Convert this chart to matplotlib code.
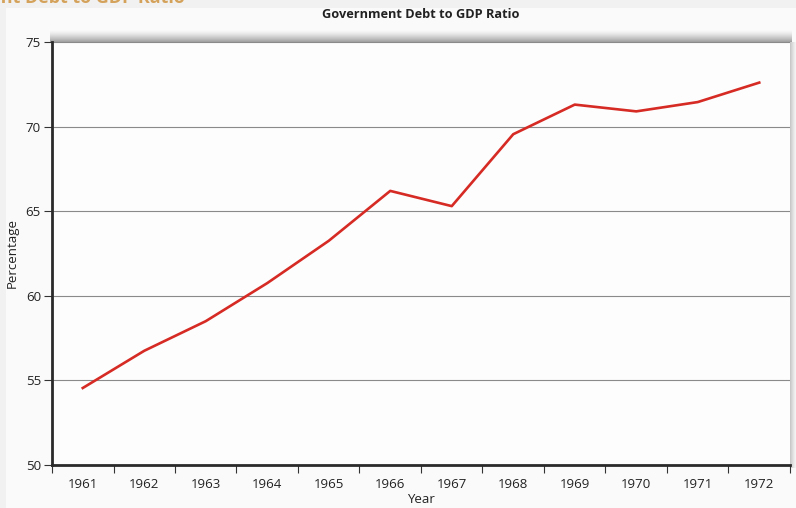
import matplotlib.pyplot as plt
from matplotlib.patches import Rectangle

plt.rcParams['font.family'] = ['Open Sans', 'DejaVu Sans']

years = ['1961', '1962', '1963', '1964', '1965', '1966',
         '1967', '1968', '1969', '1970', '1971', '1972']
debt_ratio = [54.55, 56.75, 58.5, 60.75, 63.25, 66.2,
              65.3, 69.55, 71.3, 70.9, 71.45, 72.6]

fig = plt.figure(figsize=(7.96, 5.08), dpi=100)
fig.patch.set_facecolor('#f1f1f1')

# light panel behind the chart
fig.patches.append(Rectangle((6 / 796, 0), 1, 1 - 8 / 508,
                             transform=fig.transFigure,
                             facecolor='#fafafa', edgecolor='none', zorder=0))

# cut-off caption at the very top
fig.text(185 / 796, 1 + 2 / 508, 'Government Debt to GDP Ratio', ha='right',
         va='center', color='#d4a25a', fontsize=13, fontweight='bold')

ax = fig.add_axes([52 / 796, 43 / 508, 738 / 796, 423 / 508])
ax.set_zorder(5)
ax.set_facecolor('#fdfdfd')

# soft shadow along the top and right edges of the plot area
n = 12
for i in range(n):
    a = 0.35 * (1 - i / n) ** 1.5
    fig.patches.append(Rectangle((50 / 796, (466 + i) / 508), 742 / 796, 1 / 508,
                                 transform=fig.transFigure, facecolor='black',
                                 alpha=a, edgecolor='none', zorder=1))
for i in range(7):
    a = 0.2 * (1 - i / 7) ** 1.5
    fig.patches.append(Rectangle(((790 + i) / 796, 40 / 508), 1 / 796, 426 / 508,
                                 transform=fig.transFigure, facecolor='black',
                                 alpha=a, edgecolor='none', zorder=1))

x = range(len(years))
ax.plot(x, debt_ratio, color='#d62a24', linewidth=1.9, zorder=3)

ax.set_xlim(-0.5, len(years) - 0.5)
ax.set_ylim(50, 75)
ax.set_yticks([50, 55, 60, 65, 70, 75])
ax.yaxis.grid(True, color='#8a8a8a', linewidth=0.8)
ax.set_axisbelow(True)

ax.set_xticks([i - 0.5 for i in range(len(years) + 1)])
ax.set_xticklabels([])
ax.set_xticks(list(x), minor=True)
ax.set_xticklabels(years, minor=True)
ax.tick_params(axis='x', which='major', length=6, width=0.8, color='#333333')
ax.tick_params(axis='x', which='minor', length=0, pad=9, labelsize=9.5, labelcolor='#222222')
ax.tick_params(axis='y', length=6, width=0.8, color='#333333', labelsize=9.5,
               labelcolor='#222222', pad=2)

for side in ['top', 'right']:
    ax.spines[side].set_visible(False)
ax.spines['left'].set_linewidth(2)
ax.spines['left'].set_color('#2a2a2a')
ax.spines['bottom'].set_linewidth(2)
ax.spines['bottom'].set_color('#2a2a2a')

ax.set_title('Government Debt to GDP Ratio', fontsize=9.2, fontweight='bold',
             color='#222222', pad=17)
ax.set_xlabel('Year', fontsize=9.5, color='#222222', labelpad=2)
ax.set_ylabel('Percentage', fontsize=9.5, color='#222222', labelpad=5)

fig.savefig('out.png', dpi=100, facecolor=fig.get_facecolor())
